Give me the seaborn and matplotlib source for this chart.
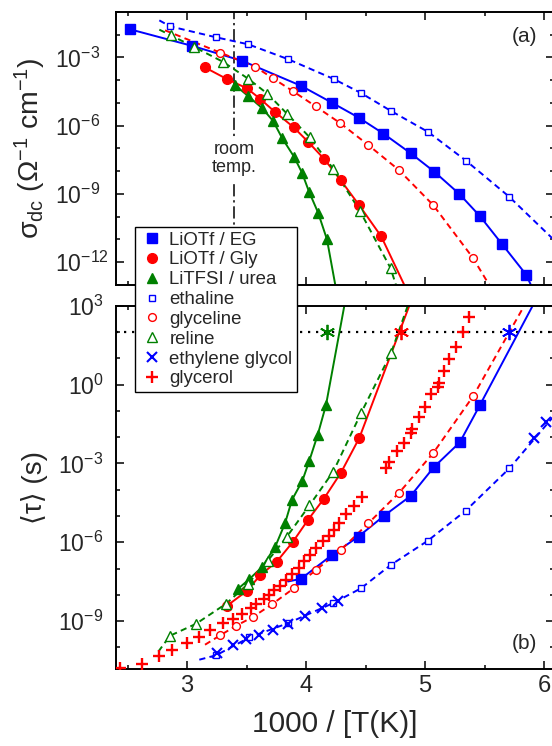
import numpy as np
import matplotlib
matplotlib.use("Agg")
import matplotlib.pyplot as plt
import seaborn as sns
from matplotlib.lines import Line2D
from matplotlib.ticker import FixedLocator, NullFormatter

# ---------------------------------------------------------------------------
# Data.  x = 1000/T(K);  y values are log10 of the quantity
# ---------------------------------------------------------------------------
# Panel (a): log10 sigma_dc (Ohm^-1 cm^-1)
a_EG_x = [2.521, 3.045, 3.465, 3.958, 4.218, 4.443, 4.650, 4.882, 5.078, 5.288, 5.462, 5.647, 5.849]
a_EG_y = [-1.761, -2.492, -3.149, -4.243, -4.987, -5.643, -6.344, -7.219, -8.020, -8.996, -9.976, -11.201, -12.540]
a_Gly_x = [3.151, 3.336, 3.504, 3.616, 3.739, 3.897, 4.015, 4.153, 4.290, 4.447, 4.632]
a_Gly_y = [-3.438, -3.950, -4.357, -4.825, -5.394, -6.072, -6.694, -7.464, -8.383, -9.495, -10.864]
a_urea_x = [3.403, 3.513, 3.630, 3.723, 3.798, 3.899, 3.966, 4.025, 4.101, 4.176]
a_urea_y = [-4.212, -4.694, -5.219, -5.788, -6.532, -7.363, -8.063, -8.895, -9.814, -10.996]
a_ethaline_x = [2.857, 3.244, 3.513, 3.849, 4.235, 4.462, 4.714, 5.025, 5.345, 5.706]
a_ethaline_y = [-1.630, -2.112, -2.418, -3.074, -3.950, -4.562, -5.350, -6.269, -7.538, -9.114]
a_glyceline_x = [3.277, 3.571, 3.723, 3.891, 4.080, 4.288, 4.521, 4.780, 5.070, 5.401]
a_glyceline_y = [-2.781, -3.403, -3.919, -4.484, -5.144, -5.888, -6.838, -7.945, -9.495, -11.797]
a_reline_x = [2.863, 3.059, 3.303, 3.515, 3.676, 3.842, 4.031, 4.227, 4.451, 4.710]
a_reline_y = [-2.024, -2.536, -3.193, -3.937, -4.593, -5.481, -6.510, -7.880, -9.726, -12.256]

# fit-curve ends beyond the data (start point, end point) in panel (a)
a_EG_fit_ends = [None, (5.890, -13.0)]
a_Gly_fit_ends = [None, (4.826, -13.0)]
a_urea_fit_ends = [None, (4.246, -13.0)]
a_ethaline_fit_ends = [(2.767, -1.368), (6.120, -11.20)]
a_glyceline_fit_ends = [(2.815, -1.805), (5.540, -13.0)]
a_reline_fit_ends = [(2.767, -1.775), (4.756, -13.0)]

# Panel (b): log10 <tau> (s)
b_EG_x = [3.958, 4.220, 4.441, 4.655, 4.880, 5.074, 5.292, 5.462]
b_EG_y = [-7.392, -6.479, -5.783, -4.996, -4.236, -3.144, -2.202, -0.776]
b_Gly_x = [3.336, 3.504, 3.613, 3.755, 3.888, 4.017, 4.151, 4.294, 4.448]
b_Gly_y = [-8.418, -7.848, -7.266, -6.734, -5.996, -5.148, -4.338, -3.350, -2.030]
b_urea_x = [3.426, 3.524, 3.630, 3.742, 3.824, 3.882, 3.969, 4.028, 4.098, 4.168]
b_urea_y = [-7.783, -7.403, -6.947, -6.163, -5.274, -4.388, -3.665, -2.894, -1.916, -0.776]
b_ethaline_x = [3.246, 3.523, 3.851, 4.229, 4.462, 4.714, 5.025, 5.343, 5.708]
b_ethaline_y = [-10.300, -9.624, -9.076, -8.316, -7.753, -6.859, -5.939, -4.795, -3.194]
b_glyceline_x = [3.277, 3.408, 3.552, 3.714, 3.895, 4.080, 4.294, 4.525, 4.784, 5.070, 5.406]
b_glyceline_y = [-9.548, -9.190, -8.848, -8.361, -7.760, -7.068, -6.289, -5.274, -4.110, -2.601, -0.433]
b_reline_x = [2.857, 3.076, 3.328, 3.513, 3.678, 3.840, 4.029, 4.229, 4.462, 4.714]
b_reline_y = [-9.559, -9.103, -8.342, -7.582, -6.707, -5.783, -4.597, -3.312, -1.091, 1.190]
b_eglycol_x = [3.252, 3.387, 3.498, 3.603, 3.720, 3.846, 3.989, 4.137, 4.271, 5.918, 6.017]
b_eglycol_y = [-10.217, -9.901, -9.700, -9.540, -9.342, -9.122, -8.825, -8.517, -8.228, -2.042, -1.411]
b_glycerol_x = [2.437, 2.622, 2.761, 2.874, 2.996, 3.101, 3.193, 3.303, 3.387, 3.462, 3.538, 3.580,
                3.650, 3.687, 3.734, 3.782, 3.832, 3.882, 3.939, 3.986, 4.034, 4.088, 4.143, 4.196,
                4.235, 4.277, 4.339, 4.406, 4.469,
                4.670, 4.700, 4.762, 4.824, 4.882, 4.891, 4.947, 5.003, 5.050, 5.107, 5.115, 5.157,
                5.199, 5.261, 5.317, 5.372]
b_glycerol_y = [-10.776, -10.624, -10.346, -10.110, -9.844, -9.597, -9.331, -9.065, -8.924, -8.722,
                -8.506, -8.342, -8.163, -8.000, -7.810, -7.658, -7.430, -7.213, -6.985, -6.726,
                -6.498, -6.213, -5.947, -5.757, -5.529, -5.274, -4.939, -4.635, -4.285,
                -3.171, -2.932, -2.525, -2.221, -1.852, -1.700, -1.221, -0.840, -0.369, -0.080,
                0.049, 0.517, 0.962, 1.418, 2.011, 2.559]

b_EG_fit_ends = [(3.849, -7.494), (5.905, 3.0)]
b_Gly_fit_ends = [None, (4.868, 3.0)]
b_urea_fit_ends = [None, (4.322, 3.0)]
b_ethaline_fit_ends = [(3.103, -10.47), (6.120, -1.0)]
b_glyceline_fit_ends = [(3.151, -9.90), (5.834, 3.0)]
b_reline_fit_ends = [(2.759, -10.16), (4.855, 3.0)]

# tau = 100 s crossings (asterisks)
tg_x = [4.174, 4.798, 5.708]
tg_log_tau = 2.0
room_temp_x = 3.397

legend_labels = ["LiOTf / EG", "LiOTf / Gly", "LiTFSI / urea", "ethaline", "glyceline",
                 "reline", "ethylene glycol", "glycerol"]

# ---------------------------------------------------------------------------
sns.set_theme(style="ticks")
plt.rcParams["font.family"] = ["Liberation Sans", "DejaVu Sans"]
plt.rcParams["mathtext.fontset"] = "custom"
plt.rcParams["mathtext.rm"] = "Liberation Sans"
plt.rcParams["mathtext.it"] = "Liberation Sans:italic"
plt.rcParams["mathtext.bf"] = "Liberation Sans:bold"
plt.rcParams["mathtext.sf"] = "Liberation Sans"
plt.rcParams["mathtext.fallback"] = "stixsans"
plt.rcParams["axes.unicode_minus"] = False

BLUE, RED, GREEN = "#0000FF", "#FF0000", "#008000"
LW = 1.4
DASH = (0, (3.2, 2.2))

fig = plt.figure(figsize=(5.52, 7.46), dpi=100)
W, H = 552.0, 746.0
axL, axR = 116.0, 554.0
ax_a = fig.add_axes([axL / W, 1 - 285.0 / H, (axR - axL) / W, (285.0 - 12.0) / H])
ax_b = fig.add_axes([axL / W, 1 - 669.0 / H, (axR - axL) / W, (669.0 - 305.7) / H])


def draw_fit(ax, xs, ys, ends, color, ls):
    fx, fy = list(xs), list(ys)
    if ends[0] is not None:
        fx = [ends[0][0]] + fx
        fy = [ends[0][1]] + fy
    if ends[1] is not None:
        fx = fx + [ends[1][0]]
        fy = fy + [ends[1][1]]
    sns.lineplot(x=fx, y=10.0 ** np.array(fy), ax=ax, color=color, linestyle=ls, lw=LW,
                 estimator=None, sort=False, zorder=2)


def draw_marks(ax, xs, ys, color, marker, ms, filled, mew=1.0):
    sns.lineplot(x=xs, y=10.0 ** np.array(ys), ax=ax, color=color, linestyle="", marker=marker,
                 ms=ms, mfc=(color if filled else "white"), mec=color, mew=mew,
                 estimator=None, sort=False, zorder=3)


# styles per series: (color, marker, size, filled, line style)
styles = {
    "EG": (BLUE, "s", 6.6, True, "-"),
    "Gly": (RED, "o", 7.0, True, "-"),
    "urea": (GREEN, "^", 7.2, True, "-"),
    "ethaline": (BLUE, "s", 4.8, False, DASH),
    "glyceline": (RED, "o", 5.6, False, DASH),
    "reline": (GREEN, "^", 6.6, False, DASH),
}

panel_a = [("EG", a_EG_x, a_EG_y, a_EG_fit_ends), ("Gly", a_Gly_x, a_Gly_y, a_Gly_fit_ends),
           ("urea", a_urea_x, a_urea_y, a_urea_fit_ends),
           ("ethaline", a_ethaline_x, a_ethaline_y, a_ethaline_fit_ends),
           ("glyceline", a_glyceline_x, a_glyceline_y, a_glyceline_fit_ends),
           ("reline", a_reline_x, a_reline_y, a_reline_fit_ends)]
panel_b = [("EG", b_EG_x, b_EG_y, b_EG_fit_ends), ("Gly", b_Gly_x, b_Gly_y, b_Gly_fit_ends),
           ("urea", b_urea_x, b_urea_y, b_urea_fit_ends),
           ("ethaline", b_ethaline_x, b_ethaline_y, b_ethaline_fit_ends),
           ("glyceline", b_glyceline_x, b_glyceline_y, b_glyceline_fit_ends),
           ("reline", b_reline_x, b_reline_y, b_reline_fit_ends)]

for ax, series in ((ax_a, panel_a), (ax_b, panel_b)):
    for key, xs, ys, ends in series:
        c, m, ms, filled, ls = styles[key]
        draw_fit(ax, xs, ys, ends, c, ls)
    for key, xs, ys, ends in series:
        c, m, ms, filled, ls = styles[key]
        draw_marks(ax, xs, ys, c, m, ms, filled, mew=1.0)

draw_marks(ax_b, b_eglycol_x, b_eglycol_y, BLUE, "x", 7.4, False, mew=1.5)
draw_marks(ax_b, b_glycerol_x, b_glycerol_y, RED, "+", 8.2, False, mew=1.7)
for xv, c in zip(tg_x, [GREEN, RED, BLUE]):
    sns.lineplot(x=[xv], y=[10.0 ** tg_log_tau], ax=ax_b, color=c, linestyle="",
                 marker=(6, 2, 0), ms=11, mec=c, mew=1.3, estimator=None, zorder=4)

# reference lines
ax_a.axvline(room_temp_x, color="black", lw=1.1, linestyle=(0, (8, 2.5, 1.5, 2.5)), zorder=1)
ax_a.text(room_temp_x, 10.0 ** -7.45, "room\ntemp.", ha="center", va="center", fontsize=13,
          linespacing=1.05, zorder=1.5,
          bbox=dict(boxstyle="square,pad=0.25", fc="white", ec="none"))
ax_b.axhline(10.0 ** tg_log_tau, color="black", lw=1.6, linestyle=(0, (1, 2.6)), zorder=1)

# axes formatting
for ax in (ax_a, ax_b):
    ax.set_yscale("log")
    ax.set_xlim(2.403, 6.084)
    ax.xaxis.set_major_locator(FixedLocator([3, 4, 5, 6]))
    ax.xaxis.set_minor_locator(FixedLocator([2.5, 3.5, 4.5, 5.5]))
    ax.tick_params(which="both", direction="in", top=True, right=True, width=1.1, color="black")
    ax.tick_params(which="major", length=6)
    ax.tick_params(which="minor", length=3.2)
    for sp in ax.spines.values():
        sp.set_linewidth(1.4)
        sp.set_color("black")
    ax.set_facecolor("white")

ax_a.set_ylim(1e-13, 1e-1)
ax_a.yaxis.set_major_locator(FixedLocator([1e-3, 1e-6, 1e-9, 1e-12]))
ax_a.yaxis.set_minor_locator(FixedLocator(10.0 ** np.arange(-13, 0)))
ax_a.yaxis.set_minor_formatter(NullFormatter())
ax_a.tick_params(axis="x", labelbottom=False)
ax_a.tick_params(axis="y", labelsize=16.5, pad=44)
ax_a.set_yticklabels([r"$\mathdefault{10^{-3}}$", r"$\mathdefault{10^{-6}}$",
                      r"$\mathdefault{10^{-9}}$", r"$\mathdefault{10^{-12}}$"])
for lab in ax_a.get_yticklabels():
    lab.set_horizontalalignment("left")

ax_b.set_ylim(10.0 ** -10.824, 1e3)
ax_b.yaxis.set_major_locator(FixedLocator([1e3, 1e0, 1e-3, 1e-6, 1e-9]))
ax_b.yaxis.set_minor_locator(FixedLocator(10.0 ** np.arange(-10, 4)))
ax_b.yaxis.set_minor_formatter(NullFormatter())
ax_b.set_yticklabels([r"$\mathdefault{10^{3}}$", r"$\mathdefault{10^{0}}$", r"$\mathdefault{10^{-3}}$",
                      r"$\mathdefault{10^{-6}}$", r"$\mathdefault{10^{-9}}$"])
ax_b.tick_params(axis="y", labelsize=16.5, pad=9)
ax_b.set_xticklabels(["3", "4", "5", "6"])
ax_b.tick_params(axis="x", labelsize=17, pad=4)

ax_a.set_ylabel(r"$\mathdefault{\sigma_{dc}\ (\Omega^{-1}\ cm^{-1})}$", fontsize=20.5)
ax_a.yaxis.set_label_coords(-0.155, 0.5)
ax_b.set_ylabel("\u27e8\u03c4\u27e9 (s)", fontsize=20)
ax_b.yaxis.set_label_coords(-0.155, 0.5)
ax_b.set_xlabel("1000 / [T(K)]", fontsize=21.5)
ax_b.xaxis.set_label_coords(0.5, -0.112)

ax_a.text(0.932, 0.912, "(a)", transform=ax_a.transAxes, ha="center", va="center", fontsize=15)
ax_b.text(0.932, 0.069, "(b)", transform=ax_b.transAxes, ha="center", va="center", fontsize=15)

# legend spanning both panels
handles = [
    Line2D([], [], ls="", marker="s", ms=6.6, color=BLUE, mfc=BLUE, mec=BLUE),
    Line2D([], [], ls="", marker="o", ms=7.0, color=RED, mfc=RED, mec=RED),
    Line2D([], [], ls="", marker="^", ms=7.2, color=GREEN, mfc=GREEN, mec=GREEN),
    Line2D([], [], ls="", marker="s", ms=4.8, color=BLUE, mfc="white", mec=BLUE, mew=1.0),
    Line2D([], [], ls="", marker="o", ms=5.6, color=RED, mfc="white", mec=RED, mew=1.0),
    Line2D([], [], ls="", marker="^", ms=6.6, color=GREEN, mfc="white", mec=GREEN, mew=1.0),
    Line2D([], [], ls="", marker="x", ms=7.4, color=BLUE, mec=BLUE, mew=1.5),
    Line2D([], [], ls="", marker="+", ms=8.2, color=RED, mec=RED, mew=1.7),
]
leg = fig.legend(handles, legend_labels, loc="upper left", bbox_to_anchor=(135.0 / W, 1 - 227.0 / H),
                 bbox_transform=fig.transFigure, borderaxespad=0.0, fontsize=13.4, numpoints=1,
                 frameon=True, fancybox=False, framealpha=1.0, edgecolor="black",
                 handlelength=1.3, handletextpad=0.3, borderpad=0.25, labelspacing=0.15)
leg.get_frame().set_linewidth(1.0)
leg.set_zorder(10)

fig.savefig("out.png", dpi=100)
